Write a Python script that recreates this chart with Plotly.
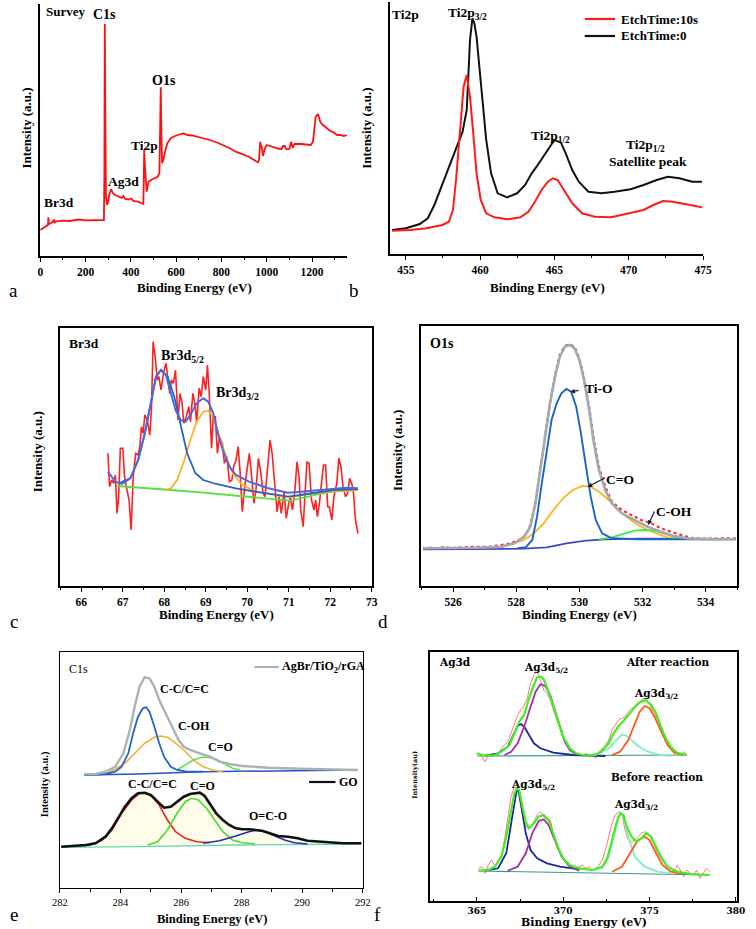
import plotly.graph_objects as go

W, H = 756, 929
SERIF = "Liberation Serif"
WIDE = "DejaVu Serif"


def px(x):
    return x / W


def py(y):
    return 1 - y / H


# ---------------- (a) Survey ----------------
survey_be = [0, 10, 20, 30, 34, 36, 38, 45, 55, 60, 64, 70, 100, 130, 150, 170, 200, 230, 250, 275,
             281, 283, 285, 287, 290, 295, 300, 305, 313, 320, 330, 345, 360, 367, 375, 390, 403, 410,
             432, 445, 455, 457, 459, 462, 466, 470, 474, 478, 489, 500, 518, 526, 529, 532, 535, 538,
             543, 547, 555, 561, 576, 590, 604, 620, 633, 650, 670, 690, 720, 748, 780, 806, 835, 863,
             890, 921, 940, 950, 961, 966, 971, 975, 978, 983, 986, 992, 1000, 1022, 1050, 1065, 1072,
             1079, 1086, 1100, 1108, 1115, 1122, 1151, 1180, 1194, 1204, 1210, 1216, 1226, 1232, 1237,
             1248, 1259, 1280, 1295, 1310, 1324, 1340, 1353]
survey_int = [26, 27.5, 28.7, 30, 31, 38.7, 32, 32.5, 34, 36.5, 33.5, 34.7, 35.3, 35, 35.7, 36.5, 35.7, 36,
              35.7, 36, 36, 80, 232, 150, 60, 51, 55, 62, 66.7, 63, 61, 59.3, 58, 60, 57, 56.5, 57.5, 55,
              54.3, 53, 52, 75, 106, 90, 69, 64.3, 70, 74.3, 76, 77.5, 79.3, 82.7, 120, 168.7, 120, 92.7,
              96, 101, 108, 112.7, 117.7, 119.5, 121, 122, 122.5, 121, 120.5, 119.3, 118, 116, 113.5, 111,
              108, 104.3, 102, 99.3, 96.5, 95.3, 93.7, 96, 114.3, 110, 109.3, 100, 103.3, 108, 111, 109.3,
              107.5, 107, 110, 110, 106.7, 107, 114.3, 108, 112, 112, 111.5, 111, 114.3, 125, 139.3, 142,
              138, 133.7, 131, 128.7, 125, 123.7, 121, 121, 120, 121]

# ---------------- (b) Ti2p ----------------
ti_t0_be = [454.08, 455.0, 455.94, 456.48, 456.92, 457.47, 458.0, 458.45, 458.82, 459.10,
            459.32, 459.48, 459.61, 459.76, 460.04, 460.41, 460.74, 461.18, 461.83, 462.49,
            463.03, 463.47, 463.80, 464.24, 464.67, 465.0, 465.44, 465.76, 466.2, 466.64,
            467.29, 468.17, 469.04, 470.13, 471.0, 471.88, 472.64, 473.41, 474.28, 474.93]
ti_t0_int = [24, 25.7, 30, 35.7, 49, 70.7, 90.7, 107.3, 122.3, 144,
             214, 235.7, 230.7, 217.3, 170.7, 114, 80.7, 60.7, 56.7, 60.7,
             69, 80.7, 87.3, 97.3, 107.3, 114, 111.3, 100.7, 84, 72.3,
             62.3, 60.7, 62.3, 64.7, 69, 74, 77.3, 75.7, 72.3, 72.3]
ti_t10_be = [454.08, 455.28, 456.38, 457.47, 457.9, 458.17, 458.38, 458.67, 458.89, 459.10,
             459.32, 459.54, 459.76, 460.04, 460.41, 460.96, 461.83, 462.71, 463.25, 463.69,
             464.13, 464.56, 464.89, 465.22, 465.66, 466.2, 466.86, 467.73, 468.82, 469.91,
             471.0, 471.66, 472.31, 472.97, 473.84, 474.93]
ti_t10_int = [23.3, 24, 25.7, 29, 32.3, 44, 74, 127.3, 167.3, 179,
              157.3, 120.7, 80.7, 54, 40.7, 36.7, 34.7, 36.7, 42.3, 52.3,
              64, 72.3, 75.7, 74, 64, 50.7, 40.7, 37.3, 36.7, 40.7,
              44, 49, 53, 52.3, 50, 46.7]
ti_legend = ["EtchTime:10s", "EtchTime:0"]

# ---------------- (c) Br3d ----------------
br_raw_be = [66.64, 66.68, 66.73, 66.78, 66.82, 66.86, 66.90, 66.94, 67.00, 67.04,
             67.10, 67.15, 67.20, 67.25, 67.31, 67.37, 67.41, 67.45, 67.49, 67.53,
             67.59, 67.65, 67.69, 67.73, 67.78, 67.83, 67.87, 67.92, 67.98, 68.04,
             68.08, 68.13, 68.17, 68.22, 68.27, 68.33, 68.38, 68.43, 68.47, 68.53,
             68.59, 68.63, 68.69, 68.75, 68.78, 68.84, 68.89, 68.94, 69.00, 69.04,
             69.08, 69.14, 69.18, 69.23, 69.28, 69.33, 69.40, 69.45, 69.51, 69.57,
             69.63, 69.67, 69.73, 69.78, 69.83, 69.88, 69.94, 70.00, 70.05, 70.10,
             70.16, 70.21, 70.27, 70.33, 70.38, 70.43, 70.49, 70.55, 70.60, 70.67,
             70.72, 70.77, 70.82, 70.89, 70.94, 71.00, 71.04, 71.09, 71.15, 71.20,
             71.25, 71.29, 71.35, 71.39, 71.44, 71.49, 71.55, 71.61, 71.65, 71.69,
             71.74, 71.79, 71.84, 71.89, 71.94, 71.98, 72.04, 72.09, 72.16, 72.21,
             72.26, 72.31, 72.37, 72.42, 72.47, 72.53, 72.56, 72.61, 72.67]
br_raw_int = [132.7, 99.3, 106, 102.7, 111, 72.7, 89.3, 137.7, 137.7, 109.3,
              96, 86, 56, 109.3, 132.7, 131, 139.3, 159.3, 152.7, 171,
              166, 151, 176, 244.3, 229.3, 206, 209.3, 196, 212.7, 222.7,
              209.3, 192.7, 206, 202.7, 216, 166, 192.7, 182.7, 162.7, 169.3,
              179.3, 164.3, 192.7, 179.3, 162.7, 197.7, 189.3, 209.3, 196, 221,
              196, 137.7, 169.3, 169.3, 132.7, 149.3, 142.7, 122.7, 129.3, 104.3,
              106, 119.3, 126, 139.3, 112.7, 74.3, 99.3, 119.3, 132.7, 112.7,
              82.7, 96, 127.7, 112.7, 92.7, 89.3, 122.7, 146, 132.7, 102.7,
              74.3, 89.3, 72.7, 94.3, 67.7, 82.7, 89.3, 76, 96, 124.3,
              109.3, 76, 59.3, 89.3, 124.3, 122.7, 86, 76, 86, 69.3,
              82.7, 102.7, 121, 121, 79.3, 79.3, 66, 89.3, 102.7, 127.7,
              119.3, 99.3, 89.3, 92.7, 107.7, 101, 94.3, 66, 52.7]
br_env_be = [66.64, 66.82, 66.98, 67.18, 67.37, 67.53, 67.69, 67.80, 67.92, 68.04, 68.16, 68.27, 68.39,
             68.51, 68.63, 68.78, 68.94, 69.06, 69.18, 69.29, 69.41, 69.57, 69.73, 70.04, 70.51, 70.98,
             71.29, 71.69, 72.08, 72.39, 72.67]
br_env_int = [114.3, 104.3, 102, 107.7, 126, 152.7, 186, 209.3, 216, 211, 192.7, 176, 166,
              164.3, 171, 182.7, 187.7, 184.3, 172.7, 152.7, 136, 119.3, 111, 104.3, 97.7, 93.3,
              94.3, 96, 97.7, 98.3, 97.7]
br_52_be = [66.90, 67.18, 67.37, 67.53, 67.69, 67.80, 67.92, 68.08, 68.24, 68.39, 68.55, 68.75, 68.94,
            69.25, 69.73, 70.35, 70.98, 71.29, 72.08, 72.67]
br_52_int = [102.7, 107.7, 126, 152.7, 186, 209.3, 216, 209.3, 189.3, 162.7, 132.7, 112.7, 106,
             102, 97.7, 93.3, 89.3, 91, 96, 97]
br_32_be = [68.0, 68.16, 68.31, 68.47, 68.63, 68.78, 68.94, 69.06, 69.18, 69.33, 69.49, 69.65, 69.88,
            70.20, 70.67, 71.06, 71.29, 71.69, 72.08, 72.67]
br_32_int = [96, 97.7, 106, 124.3, 146, 164.3, 174.3, 175.3, 169.3, 149.3, 129.3, 112.7, 101,
             94.3, 91, 88.7, 91, 93.3, 95, 96]
br_bg_be = [66.86, 67.37, 68.16, 68.94, 69.73, 70.51, 71.06, 71.29, 71.69, 72.08, 72.67]
br_bg_int = [100, 98.7, 96, 93.3, 90.3, 87.7, 85.3, 87.7, 91.7, 94.3, 96]

# ---------------- (d) O1s ----------------
o_raw_be = [525.05, 525.26, 525.46, 525.67, 525.98, 526.29, 526.70, 527.11, 527.53, 527.84, 527.99,
            528.14, 528.30, 528.45, 528.61, 528.76, 528.92, 529.07, 529.23, 529.38, 529.54, 529.69,
            529.85, 530.0, 530.15, 530.31, 530.46, 530.62, 530.82, 531.03, 531.34, 531.65, 531.96,
            532.27, 532.58, 532.89, 533.20, 533.51, 533.81, 534.23, 534.64, 534.95]
o_raw_int = [37.7, 38.3, 37.3, 38.7, 38, 38.7, 39.3, 39, 40.7, 42.7, 45,
             46.7, 51, 61, 84.3, 116.7, 150, 183.3, 211, 231, 240, 241.7,
             239.3, 227.7, 207.7, 179.3, 146, 119.3, 99.3, 84.3, 76, 71, 66,
             62.7, 57.7, 54.3, 51, 48.3, 47.3, 47.3, 48, 47.7]
o_env_be = [525.05, 525.67, 526.70, 527.53, 527.94, 528.25, 528.45, 528.61, 528.76, 528.92, 529.07,
            529.23, 529.38, 529.54, 529.69, 529.85, 530.0, 530.15, 530.31, 530.46, 530.62, 530.82,
            531.03, 531.34, 531.75, 532.16, 532.58, 532.99, 533.40, 533.92, 534.95]
o_env_int = [37.7, 37.7, 38.3, 39.3, 42.7, 49.3, 59.3, 82.7, 116, 149.3, 182.7,
             209.3, 229.3, 239.3, 241, 237.7, 226, 206, 176, 142.7, 116, 96,
             82.7, 72.7, 66, 59.3, 54.3, 50, 47.7, 46.7, 46.7]
o_tio_be = [528.04, 528.30, 528.51, 528.66, 528.81, 528.97, 529.12, 529.28, 529.43, 529.59, 529.74,
            529.90, 530.05, 530.21, 530.36, 530.52, 530.72, 531.03, 531.86, 534.95]
o_tio_int = [37.7, 38.7, 46, 69.3, 102.7, 136, 166, 182.7, 192.7, 197, 194.3,
             179.3, 152.7, 119.3, 89.3, 66, 52.7, 47.7, 46.7, 46.7]
o_co_be = [527.53, 527.94, 528.25, 528.56, 528.87, 529.18, 529.48, 529.79, 530.10, 530.36, 530.62,
           530.93, 531.24, 531.55, 531.86, 532.16, 532.47, 532.78, 533.09, 533.51]
o_co_int = [38.7, 42.7, 46, 52.7, 62.7, 76, 87.7, 96, 100, 99.3, 94.3,
            86, 76, 67.7, 61, 56, 52, 48.7, 47.3, 46.7]
o_coh_be = [530.62, 531.03, 531.44, 531.75, 532.06, 532.37, 532.68, 532.99, 533.30, 533.71]
o_coh_int = [46.7, 48.7, 52.7, 55.3, 56, 55.3, 52.7, 49.3, 47.3, 46.7]
o_bg_be = [525.05, 526.70, 528.25, 528.97, 529.59, 530.21, 530.82, 531.86, 534.95]
o_bg_int = [36.7, 36.7, 37.3, 38.7, 42.7, 45.3, 46.7, 47.3, 47]

# ---------------- (e) C1s ----------------
c_rga_be = [282.81, 283.18, 283.51, 283.83, 284.10, 284.31, 284.47, 284.63, 284.80, 284.96, 285.12,
            285.28, 285.44, 285.60, 285.76, 285.92, 286.09, 286.30, 286.62, 286.95, 287.27, 287.59,
            288.02, 288.88, 289.96, 291.03, 291.84]
c_rga_int = [113.7, 114, 116.3, 121.3, 134.7, 158, 181.3, 201.3, 210.7, 209.7, 201.3,
             188, 178, 168, 158, 148, 141.3, 138, 134.7, 131.3, 126.3, 124,
             122, 120.3, 119.3, 118.7, 118]
c_rga_cc_be = [282.81, 283.51, 283.83, 284.04, 284.26, 284.42, 284.58, 284.74, 284.85, 284.96, 285.12,
               285.28, 285.44, 285.66, 285.87, 286.19, 286.73]
c_rga_cc_int = [113, 114, 116.3, 121.3, 134.7, 154.7, 171.3, 179.7, 180.7, 176.3, 161.3,
                144.7, 131.3, 121.3, 118, 116.3, 116.3]
c_rga_coh_be = [283.51, 283.83, 284.15, 284.47, 284.80, 285.12, 285.33, 285.55, 285.76, 286.09, 286.41,
                286.73, 287.05, 287.38]
c_rga_coh_int = [114, 118.7, 124.7, 134.7, 144.7, 150.7, 152, 150.7, 146.3, 138, 128,
                 121.3, 118, 116.3]
c_rga_co_be = [285.87, 286.14, 286.41, 286.68, 286.89, 287.16, 287.43, 287.70, 288.02]
c_rga_co_int = [118, 123, 128, 130.7, 130.7, 128.7, 124, 119.7, 117.3]
c_rga_bg_be = [282.81, 284.58, 286.73, 288.88, 291.84]
c_rga_bg_int = [113, 114, 116.3, 117.3, 118]

c_go_be = [282.05, 282.43, 282.86, 283.18, 283.51, 283.72, 283.94, 284.15, 284.37, 284.58, 284.80,
           285.01, 285.23, 285.44, 285.66, 285.87, 286.09, 286.30, 286.46, 286.62, 286.78, 286.95,
           287.16, 287.38, 287.59, 287.81, 288.02, 288.24, 288.45, 288.67, 288.88, 289.20, 289.53,
           289.85, 290.17, 290.49, 290.92, 291.35, 291.95]
c_go_int = [41.3, 42, 43, 44.7, 51.3, 59.7, 71.3, 81.3, 89.7, 94.7, 95.3,
            93, 86.3, 80.3, 81.3, 86.3, 91.3, 94, 94.7, 95.3, 92, 84.7,
            74.7, 68, 63, 59.7, 58.7, 58.7, 58, 57.3, 55.3, 52, 51.3,
            49.7, 47.3, 46.7, 46, 44.7, 44.7]
c_go_cc_be = [282.05, 282.97, 283.40, 283.72, 284.04, 284.37, 284.63, 284.85, 285.06, 285.28, 285.55,
              285.82, 286.14, 286.52, 286.95]
c_go_cc_int = [41.3, 42.7, 48, 58, 74.7, 88, 94.7, 95.3, 91.3, 83, 68,
               56.3, 49.7, 46.3, 45.3]
c_go_co_be = [284.90, 285.23, 285.55, 285.87, 286.14, 286.35, 286.57, 286.84, 287.11, 287.38, 287.70,
              288.02, 288.45]
c_go_co_int = [43, 46.3, 58, 74.7, 86.3, 89.7, 88, 79.7, 68, 56.3, 48, 45.3, 44]
c_go_oco_be = [286.73, 287.27, 287.81, 288.24, 288.51, 288.77, 289.10, 289.42, 289.74, 290.17]
c_go_oco_int = [44.7, 47.3, 52, 56.3, 58, 56.3, 52, 48, 45.3, 44]
c_go_bg_be = [282.05, 284.58, 287.81, 291.95]
c_go_bg_int = [40.7, 41.3, 43, 44]
c_legend = ["AgBr/TiO<sub>2</sub>/rGA", "GO"]

# ---------------- (f) Ag3d ----------------
ag_a_raw_be = [365.09, 365.28, 365.47, 365.66, 365.85, 366.04, 366.23, 366.42, 366.60, 366.79, 366.98,
               367.17, 367.36, 367.55, 367.74, 367.92, 368.11, 368.30, 368.49, 368.68, 368.87, 369.06,
               369.25, 369.43, 369.62, 369.81, 370.0, 370.19, 370.38, 370.57, 370.75, 370.94, 371.13,
               371.32, 371.51, 371.70, 371.89, 372.08, 372.26, 372.45, 372.64, 372.83, 373.02, 373.21,
               373.40, 373.58, 373.77, 373.96, 374.15, 374.34, 374.53, 374.72, 374.91, 375.09, 375.28,
               375.47, 375.66, 375.85, 376.04, 376.23, 376.42, 376.60, 376.79, 376.98, 377.17]
ag_a_raw_int = [147.7, 144.3, 139.3, 146, 144.3, 147.7, 146, 152.7, 156, 159.3, 167.7,
                177.7, 186, 191, 196, 202.7, 217.7, 226, 229.3, 221, 211, 207.7,
                201, 191, 181, 171, 162.7, 157.7, 151, 149.3, 146, 147.7, 144.3,
                147.7, 144.3, 146, 142.7, 149.3, 152.7, 156, 161, 171, 176, 181,
                182.7, 184.3, 189.3, 192.7, 194.3, 196, 201, 202.7, 199.3, 194.3, 187.7,
                181, 171, 164.3, 159.3, 152.7, 149.3, 147.7, 146, 149.3, 146]
ag_a_env_be = [365.0, 365.47, 366.04, 366.51, 366.89, 367.17, 367.45, 367.74, 368.02, 368.30, 368.49,
               368.68, 368.87, 369.15, 369.43, 369.72, 370.0, 370.38, 370.75, 371.32, 371.89, 372.26,
               372.64, 372.92, 373.21, 373.49, 373.77, 374.06, 374.34, 374.62, 374.81, 375.09, 375.38,
               375.66, 375.94, 376.23, 376.60, 377.17]
ag_a_env_int = [147.7, 145.3, 146, 150.3, 156, 167.7, 179.3, 186, 202.7, 216, 223.7,
                224.3, 221.7, 209.3, 194.3, 177.7, 164.3, 152.7, 147.7, 145.3, 146, 150.3,
                157.7, 167.7, 175, 180, 186, 192.7, 197.7, 200.3, 200.3, 196, 187.7,
                174.3, 162.7, 154.3, 148.3, 146]
ag_a_p1_be = [365.47, 366.23, 366.79, 367.08, 367.36, 367.55, 367.74, 368.02, 368.30, 368.68, 369.43,
              370.57, 372.45]
ag_a_p1_int = [145.3, 147.7, 154.3, 164.3, 175, 177, 174.3, 166, 157.7, 152.7, 148.3, 146, 145]
ag_a_p2_be = [366.60, 366.98, 367.36, 367.74, 368.11, 368.40, 368.68, 368.96, 369.25, 369.53, 369.81,
              370.09, 370.38, 370.75]
ag_a_p2_int = [146, 149.3, 157.7, 174.3, 194.3, 209.3, 216.7, 215, 206, 191, 174.3,
               159.3, 151, 146.7]
ag_a_p3_be = [371.51, 372.08, 372.64, 373.11, 373.40, 373.68, 373.96, 374.34, 374.91, 375.66, 376.23]
ag_a_p3_int = [146, 147.7, 152.7, 161, 166.7, 165, 161, 155, 149.3, 146, 145]
ag_a_p4_be = [372.83, 373.30, 373.77, 374.15, 374.43, 374.72, 375.0, 375.28, 375.66, 376.04, 376.42,
              376.98]
ag_a_p4_int = [146, 149.3, 161, 177.7, 189.3, 195, 192.7, 184.3, 169.3, 156, 148.3, 146]
ag_a_bg_be = [365.0, 377.17]
ag_a_bg_int = [145, 146]

ag_b_raw_be = [365.09, 365.28, 365.47, 365.66, 365.85, 366.04, 366.23, 366.42, 366.60, 366.79, 366.98,
               367.17, 367.36, 367.55, 367.74, 367.92, 368.11, 368.30, 368.49, 368.68, 368.87, 369.06,
               369.25, 369.43, 369.62, 369.81, 370.0, 370.19, 370.38, 370.57, 370.75, 370.94, 371.13,
               371.32, 371.51, 371.70, 371.89, 372.08, 372.26, 372.45, 372.64, 372.83, 373.02, 373.21,
               373.40, 373.58, 373.77, 373.96, 374.15, 374.34, 374.53, 374.72, 374.91, 375.09, 375.28,
               375.47, 375.66, 375.85, 376.04, 376.23, 376.42, 376.60, 376.79, 376.98, 377.17, 377.36,
               377.55, 377.74, 377.92, 378.11, 378.30, 378.49]
ag_b_raw_int = [32.7, 34.3, 27.7, 36, 41, 34.3, 39.3, 44.3, 61, 81, 104.3,
                114.3, 111, 94.3, 77.7, 72.7, 74.3, 79.3, 86, 89.3, 84.3, 81,
                81, 67.7, 54.3, 47.7, 44.3, 37.7, 34.3, 32.7, 31, 34.3, 36,
                32.7, 34.3, 31, 32.7, 36, 41, 51, 64.3, 77.7, 86, 89.3,
                87.7, 71, 61, 59.3, 61, 64.3, 67.7, 69.3, 67.7, 62.7, 54.3,
                47.7, 42.7, 37.7, 34.3, 32.7, 27.7, 36, 31, 24.3, 31, 27.7,
                26, 31, 22.7, 27.7, 32.7, 29.3]
ag_b_env_be = [365.09, 365.66, 366.04, 366.42, 366.70, 366.98, 367.17, 367.32, 367.45, 367.64, 367.83,
               368.02, 368.30, 368.58, 368.87, 369.15, 369.43, 369.72, 370.0, 370.38, 370.94, 371.70,
               372.26, 372.55, 372.83, 373.11, 373.30, 373.49, 373.68, 373.96, 374.25, 374.53, 374.81,
               375.09, 375.38, 375.66, 376.04, 376.60, 377.36, 378.49]
ag_b_env_int = [30.3, 31, 34.3, 44.3, 64.3, 91, 107.7, 112.7, 111, 94.3, 79.3,
                72.7, 77.7, 84.3, 86, 81, 67.7, 52.7, 42.7, 36, 32.7, 31,
                34.3, 42.7, 61, 79.3, 87.7, 86, 74.3, 64.3, 59.3, 62.7, 67.7,
                64.3, 54.3, 44.3, 34.3, 29.3, 27, 26]
ag_b_p1_be = [365.47, 366.23, 366.70, 366.98, 367.17, 367.32, 367.45, 367.64, 367.83, 368.11, 368.49,
              369.06, 369.81, 370.94]
ag_b_p1_int = [30.3, 32.7, 47.7, 77.7, 101, 112.7, 107.7, 87.7, 67.7, 51, 42.7,
               37.7, 34.3, 31.7]
ag_b_p2_be = [366.79, 367.36, 367.83, 368.21, 368.58, 368.87, 369.15, 369.53, 369.91, 370.38, 370.94]
ag_b_p2_int = [30.3, 34.3, 47.7, 67.7, 80, 81.7, 76, 59.3, 44.3, 34.3, 30.3]
ag_b_p3_be = [371.51, 372.26, 372.64, 372.92, 373.21, 373.36, 373.55, 373.77, 374.15, 374.72, 375.47,
              376.23]
ag_b_p3_int = [30.3, 32.7, 44.3, 64.3, 84.3, 87.7, 81, 64.3, 44.3, 34.3, 29.3, 27.7]
ag_b_p4_be = [372.83, 373.40, 373.87, 374.34, 374.72, 375.0, 375.38, 375.75, 376.23, 376.98]
ag_b_p4_int = [29.3, 34.3, 47.7, 61, 64.3, 61, 47.7, 36, 29.3, 27]
ag_b_bg_be = [365.09, 378.49]
ag_b_bg_int = [30, 26]
ag_labels = ["After reaction", "Before reaction"]

# ---------------------------------------------------------------------------
fig = go.Figure()


def line(xs, ys, ax, color, width, dash=None, fill=None, fillcolor=None):
    fig.add_trace(go.Scatter(x=xs, y=ys, mode="lines", xaxis="x" + ax, yaxis="y" + ax,
                             line=dict(color=color, width=width, dash=dash),
                             fill=fill, fillcolor=fillcolor, showlegend=False,
                             hoverinfo="skip"))


# (a)
line(survey_be, survey_int, "", "#ff1010", 1.8)
# (b)
line(ti_t0_be, ti_t0_int, "2", "#111111", 2.0)
line(ti_t10_be, ti_t10_int, "2", "#ff1a1a", 2.0)
# (c)
line(br_raw_be, br_raw_int, "3", "#ff2020", 1.6)
line(br_bg_be, br_bg_int, "3", "#55e040", 1.8)
line(br_32_be, br_32_int, "3", "#ffb020", 1.8)
line(br_52_be, br_52_int, "3", "#2a62c4", 1.8)
line(br_env_be, br_env_int, "3", "#4a6ae0", 2.0)
# (d)
line(o_bg_be, o_bg_int, "4", "#4545c8", 1.8)
line(o_co_be, o_co_int, "4", "#ffb41c", 1.8)
line(o_coh_be, o_coh_int, "4", "#40ee40", 1.8)
line(o_tio_be, o_tio_int, "4", "#1c62c8", 1.9)
line(o_raw_be, o_raw_int, "4", "#ff2a2a", 2.2, dash="dot")
line(o_env_be, o_env_int, "4", "#a2aab2", 2.6)
# (e) upper
line(c_rga_bg_be, c_rga_bg_int, "5", "#2a4fc8", 1.5)
line(c_rga_coh_be, c_rga_coh_int, "5", "#f5b030", 1.6)
line(c_rga_co_be, c_rga_co_int, "5", "#66dd55", 1.6)
line(c_rga_cc_be, c_rga_cc_int, "5", "#1f66cc", 1.8)
line(c_rga_be, c_rga_int, "5", "#a9b3b5", 2.4)
# (e) GO
line(c_go_bg_be, c_go_bg_int, "5", "#66d8b0", 1.3)
line(c_go_be, c_go_int, "5", "rgba(0,0,0,0)", 0, fill="tonexty", fillcolor="rgba(255,249,215,0.55)")
line(c_go_cc_be, c_go_cc_int, "5", "#ee2020", 1.6)
line(c_go_co_be, c_go_co_int, "5", "#44dd33", 1.6)
line(c_go_oco_be, c_go_oco_int, "5", "#1f2fb8", 1.6)
line(c_go_be, c_go_int, "5", "#111111", 2.6)
# (f)
line(ag_a_raw_be, ag_a_raw_int, "6", "#ff6a6a", 0.9)
line(ag_b_raw_be, ag_b_raw_int, "6", "#ff6a6a", 0.9)
line(ag_a_bg_be, ag_a_bg_int, "6", "#3a9a8a", 1.2)
line(ag_b_bg_be, ag_b_bg_int, "6", "#3a9a8a", 1.2)
line(ag_a_p1_be, ag_a_p1_int, "6", "#1a2a9e", 1.8)
line(ag_b_p1_be, ag_b_p1_int, "6", "#1a2a9e", 1.8)
line(ag_a_p2_be, ag_a_p2_int, "6", "#a42ea8", 1.8)
line(ag_b_p2_be, ag_b_p2_int, "6", "#a42ea8", 1.8)
line(ag_a_p3_be, ag_a_p3_int, "6", "#7ef0c4", 1.8)
line(ag_b_p3_be, ag_b_p3_int, "6", "#7ef0c4", 1.8)
line(ag_a_p4_be, ag_a_p4_int, "6", "#ff5a1a", 1.8)
line(ag_b_p4_be, ag_b_p4_int, "6", "#ff5a1a", 1.8)
line(ag_a_env_be, ag_a_env_int, "6", "#44ee22", 2.2)
line(ag_b_env_be, ag_b_env_int, "6", "#44ee22", 2.2)

# ---------------------------------------------------------------------------
layout = dict(width=W, height=H, margin=dict(l=0, r=0, t=0, b=0),
              paper_bgcolor="white", plot_bgcolor="white", showlegend=False)


def axes(n, x0, x1, y0, y1, xr, yr, dtick, tick0, mdtick, mirror, tfont, lw=1.5, tdir="outside"):
    xa = "xaxis" if n == "" else "xaxis" + n
    ya = "yaxis" if n == "" else "yaxis" + n
    layout[xa] = dict(domain=[px(x0), px(x1)], range=xr, anchor="y" + n,
                      showline=True, linecolor="black", linewidth=lw, mirror=mirror,
                      ticks=tdir, ticklen=4, tickwidth=1.4, tickcolor="black",
                      dtick=dtick, tick0=tick0, tickfont=tfont,
                      minor=dict(dtick=mdtick, tick0=tick0, ticks=tdir, ticklen=2.5,
                                 tickwidth=1.2, tickcolor="black"),
                      showgrid=False, zeroline=False, fixedrange=True)
    layout[ya] = dict(domain=[py(y1), py(y0)], range=yr, anchor="x" + n,
                      showline=True, linecolor="black", linewidth=lw, mirror=mirror,
                      showticklabels=False, ticks="", showgrid=False, zeroline=False,
                      fixedrange=True)


bold11 = dict(family=SERIF, size=11.5, color="black", weight="bold")
axes("", 33, 347, 4, 256, [0, 1355], [0, 252], 200, 0, 100, False, bold11)
axes("2", 391, 711, 2, 254, [453.95, 475], [0, 252], 5, 455, 2.5, False, bold11)
axes("3", 53, 372, 328, 586, [65.48, 73], [0, 258], 1, 66, 0.5, True, bold11)
axes("4", 423, 746, 326, 586, [525, 535], [0, 260], 2, 526, 1, True, bold11)
axes("5", 53, 363, 652, 888, [282, 292], [0, 236], 2, 282, 1, True,
     dict(family=SERIF, size=10.5, color="black"), lw=1.3)
axes("6", 432, 746, 652, 901, [362.3, 380.08], [0, 249], 5, 365, 2.5, True,
     dict(family=WIDE, size=9, color="black", weight="bold"), lw=1.8, tdir="inside")


def txt(x, y, s, size, anchor="left", bold=True, family=SERIF, angle=0, color="black"):
    return dict(x=px(x), y=py(y), xref="paper", yref="paper",
                text=("<b>%s</b>" % s) if bold else s, showarrow=False,
                xanchor=anchor, yanchor="middle", textangle=angle,
                font=dict(family=family, size=size, color=color))


ann = []
# axis titles
be_title = "Binding Energy (eV)"
it_title = "Intensity (a.u.)"
ann += [txt(191, 288, be_title, 13, "center"), txt(552, 288, be_title, 13, "center"),
        txt(213, 614, be_title, 13, "center"), txt(585, 614, be_title, 13, "center"),
        txt(209, 919, be_title, 12.5, "center"),
        txt(589, 922, be_title, 11, "center", family=WIDE)]
ann += [txt(19, 128, it_title, 13, "center", angle=-90), txt(367, 128, it_title, 13, "center", angle=-90),
        txt(30, 452, it_title, 13, "center", angle=-90), txt(398, 451, it_title, 13, "center", angle=-90),
        txt(38, 784, it_title, 10.5, "center", angle=-90),
        txt(416, 775, "Intensity(au)", 6.5, "center", family=WIDE, angle=-90)]
# panel letters
for lx, ly, lt in [(6, 291, "a"), (354, 291, "b"), (6, 621, "c"), (384, 621, "d"),
                   (6, 914, "e"), (378, 914, "f")]:
    ann.append(txt(lx, ly, lt, 19, "center", bold=False))
# (a)
ann += [txt(37, 12, "Survey", 13), txt(99, 15, "C1s", 14, "center"), txt(160, 80, "O1s", 14, "center"),
        txt(140, 146, "Ti2p", 13.5, "center"), txt(118, 182, "Ag3d", 13.5, "center"),
        txt(52, 202, "Br3d", 13.5, "center")]
# (b)
ann += [txt(391, 15, "Ti2p", 13.5), txt(470, 14, "Ti2p<sub>3/2</sub>", 13.5, "center"),
        txt(555, 136, "Ti2p<sub>1/2</sub>", 13.5, "center"),
        txt(652, 146, "Ti2p<sub>1/2</sub>", 13.5, "center"),
        txt(655, 162, "Satellite peak", 13.5, "center"),
        txt(625, 19, ti_legend[0], 13), txt(625, 36, ti_legend[1], 13)]
# (c)
ann += [txt(60, 343, "Br3d", 13.5), txt(154, 356, "Br3d<sub>5/2</sub>", 14),
        txt(211, 393, "Br3d<sub>3/2</sub>", 14)]
# (d)
ann += [txt(430, 343, "O1s", 14), txt(588, 388, "Ti-O", 13.5), txt(610, 479, "C=O", 13.5),
        txt(661, 512, "C-OH", 13.5)]
for hx, hy, dx, dy in [(529.71, 194, 10, -2), (530.26, 99, 19, -10), (532.18, 61, 7, -15)]:
    ann.append(dict(x=hx, y=hy, xref="x4", yref="y4", ax=dx, ay=dy, text="", showarrow=True,
                    arrowhead=2, arrowsize=0.8, arrowwidth=1.2, arrowcolor="#1a1a3a"))
# (e)
ann += [txt(60, 669, "C1s", 12, bold=False), txt(153, 689, "C-C/C=C", 12),
        txt(172, 726, "C-OH", 12), txt(203, 747, "C=O", 12),
        txt(121, 784, "C-C/C=C", 12), txt(184, 786, "C=O", 12), txt(244, 816, "O=C-O", 12),
        txt(278, 667, c_legend[0], 12), txt(337, 782, c_legend[1], 12)]
# (f)
ann += [txt(439, 662, "Ag3d", 10.5, family=WIDE), txt(630, 662, ag_labels[0], 10.5, family=WIDE),
        txt(550, 668, "Ag3d<sub>5/2</sub>", 10.5, "center", family=WIDE),
        txt(663, 694, "Ag3d<sub>3/2</sub>", 10.5, "center", family=WIDE),
        txt(615, 777, ag_labels[1], 10.5, family=WIDE),
        txt(537, 785, "Ag3d<sub>5/2</sub>", 10.5, "center", family=WIDE),
        txt(642, 805, "Ag3d<sub>3/2</sub>", 10.5, "center", family=WIDE)]
layout["annotations"] = ann

# legend samples (drawn as short lines in paper space)
shapes = []
for (x0, x1, yy, col) in [(590, 621, 19, "#ff1a1a"), (590, 621, 36, "#111111"),
                          (252, 277, 667, "#a9b3b5"), (308, 335, 782, "#111111")]:
    shapes.append(dict(type="line", xref="paper", yref="paper", x0=px(x0), x1=px(x1),
                       y0=py(yy), y1=py(yy), line=dict(color=col, width=2.2)))
layout["shapes"] = shapes

fig.update_layout(**layout)
fig.write_html("out.html")
